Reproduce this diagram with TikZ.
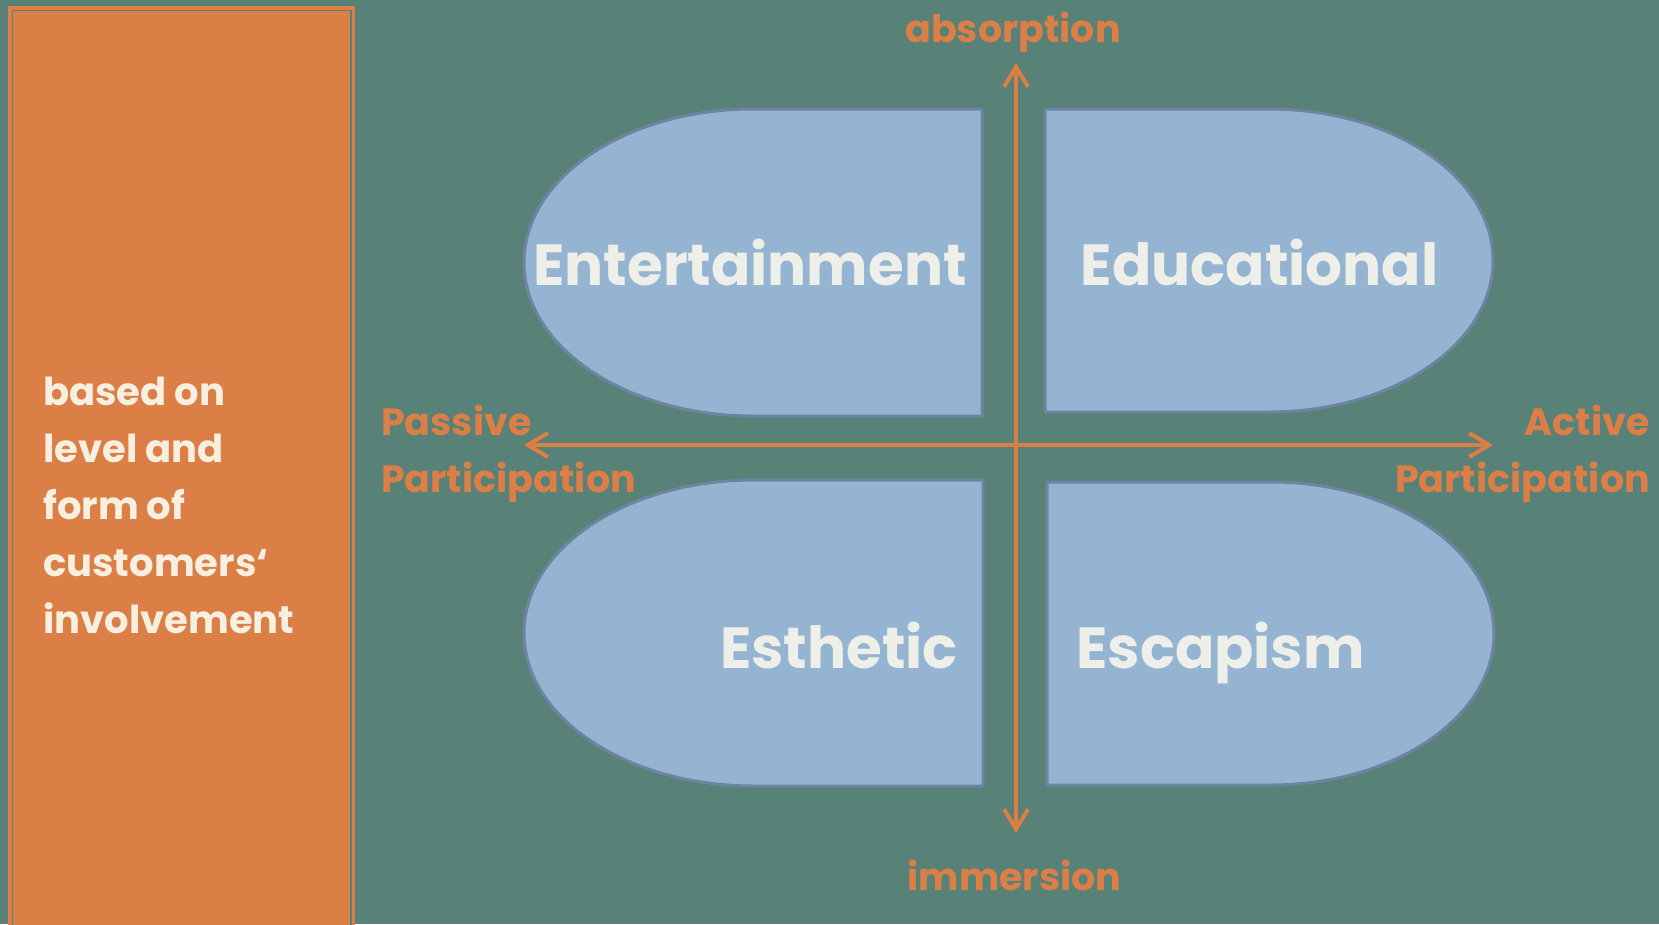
\documentclass[tikz,border=0pt]{standalone}
\usepackage{fontspec}
\setmainfont{Poppins}
\usetikzlibrary{arrows.meta}
\definecolor{bgteal}{HTML}{588178}
\definecolor{paneltan}{HTML}{DC7F47}
\definecolor{pillfill}{HTML}{95B4D2}
\definecolor{pilledge}{HTML}{6D85A0}
\definecolor{bigtext}{HTML}{EEEFE8}
\definecolor{cream}{HTML}{F7EFDF}
\begin{document}
\begin{tikzpicture}[x=1pt,y=-1pt,
  pill/.style={fill=pillfill,draw=pilledge,line width=3pt,line join=round},
  axis/.style={draw=paneltan,line width=4pt,
    {Straight Barb[length=20pt,width=24pt]}-{Straight Barb[length=20pt,width=24pt]}},
  quad/.style={font=\fontsize{58}{58}\selectfont\bfseries,text=bigtext,inner sep=0pt},
  pole/.style={font=\fontsize{38}{57}\selectfont\bfseries,text=paneltan,inner sep=0pt},
  side/.style={font=\fontsize{38.5}{57}\selectfont\bfseries,text=cream,inner sep=0pt,align=left},
]
% canvas and background
\useasboundingbox (0,0) rectangle (1659,924);
\fill[bgteal] (0,0) rectangle (1659,924);

% left panel with its inner rule
\fill[paneltan] (8,6) rectangle (355,930);
\draw[bgteal,line width=1.3pt] (12.5,10.5) rectangle (351,940);
% multi-line nodes: base anchor sits on the last line
\node[side,anchor=base west] (involve) at (43,633)
  {based on\\level and\\form of\\customers‘\\involvement};

% four quadrant shapes (D-shapes)
\path[pill] (982,109) -- (753,109) arc[start angle=90,end angle=270,x radius=229pt,y radius=153.5pt] -- (982,416) -- cycle;
\path[pill] (1045,109) -- (1269,109) arc[start angle=90,end angle=-90,x radius=224pt,y radius=151.5pt] -- (1045,412) -- cycle;
\path[pill] (983,480) -- (753.5,480) arc[start angle=90,end angle=270,x radius=229.5pt,y radius=153pt] -- (983,786) -- cycle;
\path[pill] (1047,482) -- (1270.5,482) arc[start angle=90,end angle=-90,x radius=223.5pt,y radius=151.5pt] -- (1047,785) -- cycle;

\node[quad,anchor=base] (ent) at (750,285) {Entertainment};
\node[quad,anchor=base] (edu) at (1259.5,285) {Educational};
\node[quad,anchor=base] (est) at (839,668) {Esthetic};
\node[quad,anchor=base] (esc) at (1220.5,668) {Escapism};

% axes
\coordinate (up) at (1016,63);
\coordinate (down) at (1016,833);
\coordinate (left) at (524,445);
\coordinate (right) at (1493,445);
\draw[axis] (down) -- (up);
\draw[axis] (left) -- (right);

\node[pole,anchor=base] (abs) at (1013,42) {absorption};
\node[pole,anchor=base] (imm) at (1014.5,890) {immersion};
\node[pole,anchor=base west,align=left] (pas) at (381,492) {Passive\\Participation};
\node[pole,anchor=base east,align=right] (act) at (1650,492) {Active\\Participation};
\end{tikzpicture}
\end{document}
